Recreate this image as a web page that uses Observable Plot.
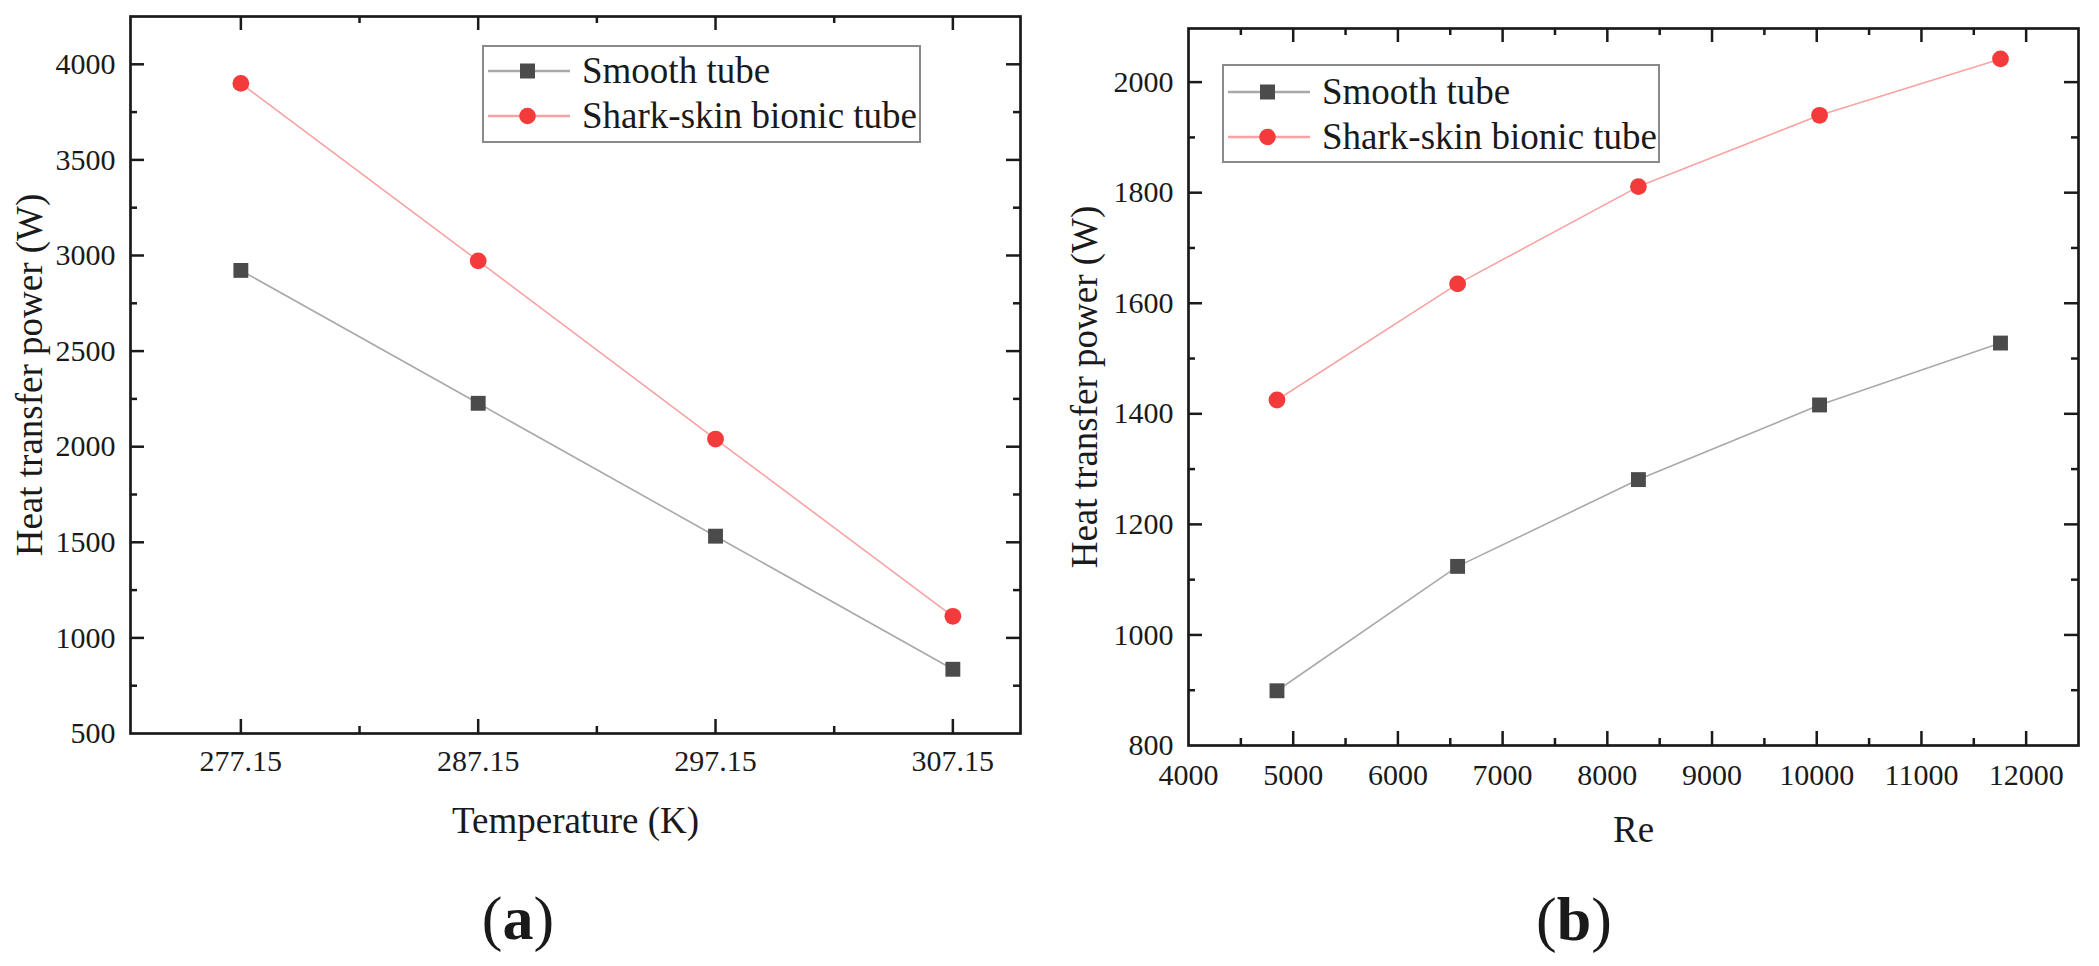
<!DOCTYPE html>
<html>
<head>
  <meta charset="utf-8">
  <!-- load d3 and plot -->
  <script src="https://cdn.jsdelivr.net/npm/d3@7"></script>
  <script src="https://cdn.jsdelivr.net/npm/@observablehq/plot@0.6"></script>
  <style>
    body { margin: 0; background: white; }
    #page { position: relative; width: 2099px; height: 966px; font-family: "Liberation Serif", "Times New Roman", serif; color: #1a1a1a; }
    .panel { position: absolute; top: 0; }
    .panel svg, .panel svg text { font-family: "Liberation Serif", "Times New Roman", serif !important; }
    .legend { position: absolute; box-sizing: border-box; border: 2px solid #8a8a8a; background: white; }
    .row { position: absolute; left: 0; height: 40px; display: flex; align-items: center; }
    .row span { font-size: 37px; line-height: 40px; white-space: nowrap; margin-left: 8px; }
    .caption { position: absolute; font-size: 62px; line-height: 1; transform: translate(-50%, -50%); }
  </style>
</head>
<body>
  <div id="page">
    <div class="panel" id="chartA" style="left:0px"></div>
    <div class="panel" id="chartB" style="left:1040px"></div>
  </div>
  <script>
    const serif = '"Liberation Serif", "Times New Roman", serif';

    // series names
    const seriesNames = ["Smooth tube", "Shark-skin bionic tube"];

    // panel (a): temperature sweep
    const tempK = [277.15, 287.15, 297.15, 307.15];
    const smoothPowerA = [2922, 2227, 1532, 836];
    const sharkPowerA = [3900, 2972, 2040, 1113];

    // panel (b): Reynolds number sweep
    const reynolds = [4845, 6570, 8297, 10027, 11755];
    const smoothPowerB = [899, 1124, 1281, 1416, 1528];
    const sharkPowerB = [1425, 1635, 1811, 1940, 2042];

    // tick values
    const tempMajor = [277.15, 287.15, 297.15, 307.15];
    const tempMinor = [282.15, 292.15, 302.15];
    const powerAMajor = [500, 1000, 1500, 2000, 2500, 3000, 3500, 4000];
    const powerAMinor = [750, 1250, 1750, 2250, 2750, 3250, 3750];
    const reMajor = [4000, 5000, 6000, 7000, 8000, 9000, 10000, 11000, 12000];
    const reMinor = [4500, 5500, 6500, 7500, 8500, 9500, 10500, 11500];
    const powerBMajor = [800, 1000, 1200, 1400, 1600, 1800, 2000];
    const powerBMinor = [900, 1100, 1300, 1500, 1700, 1900];

    // colours
    const lineColor = {"Smooth tube": "#a9a9a9", "Shark-skin bionic tube": "#f8a3a3"};
    const dotColor = {"Smooth tube": "#4b4b4b", "Shark-skin bionic tube": "#f33b3b"};
    const dotSymbol = {"Smooth tube": "square", "Shark-skin bionic tube": "circle"};

    // long table for one panel
    function makeRows(xs, smooth, shark) {
      return [smooth, shark].flatMap((vals, i) =>
        vals.map((v, j) => ({series: seriesNames[i], x: xs[j], y: v})));
    }

    // inward ticks on all four sides of the frame
    function frameTicks(xMaj, xMin, yMaj, yMin, fw, fh) {
      const big = 14, small = 7, sw = 2.5, c = "#1a1a1a";
      return [
        Plot.tickX(xMaj, {x: d => d, insetTop: fh - big, stroke: c, strokeWidth: sw}),
        Plot.tickX(xMaj, {x: d => d, insetBottom: fh - big, stroke: c, strokeWidth: sw}),
        Plot.tickX(xMin, {x: d => d, insetTop: fh - small, stroke: c, strokeWidth: sw}),
        Plot.tickX(xMin, {x: d => d, insetBottom: fh - small, stroke: c, strokeWidth: sw}),
        Plot.tickY(yMaj, {y: d => d, insetRight: fw - big, stroke: c, strokeWidth: sw}),
        Plot.tickY(yMaj, {y: d => d, insetLeft: fw - big, stroke: c, strokeWidth: sw}),
        Plot.tickY(yMin, {y: d => d, insetRight: fw - small, stroke: c, strokeWidth: sw}),
        Plot.tickY(yMin, {y: d => d, insetLeft: fw - small, stroke: c, strokeWidth: sw})
      ];
    }

    function panel(o) {
      const fw = o.width - o.ml - o.mr;
      const fh = o.height - o.mt - o.mb;
      const rows = makeRows(o.xs, o.smooth, o.shark);
      return Plot.plot({
        width: o.width,
        height: o.height,
        marginLeft: o.ml, marginRight: o.mr, marginTop: o.mt, marginBottom: o.mb,
        style: {background: "white", fontFamily: serif, fontSize: "30px", color: "#1a1a1a", overflow: "visible"},
        x: {domain: o.xDomain},
        y: {domain: o.yDomain},
        marks: [
          Plot.axisX(o.xMajor, {tickSize: 0, tickPadding: o.xPad, tickFormat: o.xFormat, label: null, fontSize: 30, fontFamily: serif}),
          Plot.axisY(o.yMajor, {tickSize: 0, tickPadding: 15, tickFormat: d3.format("d"), label: null, fontSize: 30, fontFamily: serif}),
          ...frameTicks(o.xMajor.filter(d => d > o.xDomain[0]), o.xMinor, o.yMajor.filter(d => d > o.yDomain[0]), o.yMinor, fw, fh),
          Plot.line(rows, {x: "x", y: "y", z: "series", stroke: d => lineColor[d.series], strokeWidth: 1.6}),
          Plot.dot(rows, {x: "x", y: "y", symbol: d => dotSymbol[d.series], fill: d => dotColor[d.series], r: 8.4}),
          Plot.frame({stroke: "#1a1a1a", strokeWidth: 2.7}),
          Plot.text([o.xTitle], {text: d => d, frameAnchor: "bottom", dy: o.xTitleDy, lineAnchor: "middle", textAnchor: "middle", fontSize: 37, fontFamily: serif}),
          Plot.text([o.yTitle], {text: d => d, frameAnchor: "left", dx: o.yTitleDx, rotate: -90, lineAnchor: "middle", textAnchor: "middle", fontSize: 37, fontFamily: serif})
        ]
      });
    }

    const chartA = panel({
      width: 1040, height: 860, ml: 130, mr: 20, mt: 16, mb: 127,
      xs: tempK, smooth: smoothPowerA, shark: sharkPowerA,
      xDomain: [272.5, 310], yDomain: [500, 4250],
      xMajor: tempMajor, xMinor: tempMinor, yMajor: powerAMajor, yMinor: powerAMinor,
      xFormat: d3.format(".2f"), xPad: 16,
      xTitle: "Temperature (K)", xTitleDy: 88,
      yTitle: "Heat transfer power (W)", yTitleDx: -100
    });
    document.getElementById("chartA").appendChild(chartA);

    const chartB = panel({
      width: 1059, height: 860, ml: 148, mr: 21, mt: 28, mb: 115,
      xs: reynolds, smooth: smoothPowerB, shark: sharkPowerB,
      xDomain: [4000, 12500], yDomain: [800, 2097],
      xMajor: reMajor, xMinor: reMinor, yMajor: powerBMajor, yMinor: powerBMinor,
      xFormat: d3.format("d"), xPad: 18,
      xTitle: "Re", xTitleDy: 85,
      yTitle: "Heat transfer power (W)", yTitleDx: -103
    });
    document.getElementById("chartB").appendChild(chartB);

    // legend boxes (html)
    function addLegend(left, top, width, height, rowTops) {
      const page = document.getElementById("page");
      const box = document.createElement("div");
      box.className = "legend";
      Object.assign(box.style, {left: left + "px", top: top + "px", width: width + "px", height: height + "px"});
      seriesNames.forEach((name, i) => {
        const row = document.createElement("div");
        row.className = "row";
        row.style.top = rowTops[i] + "px";
        const sym = dotSymbol[name] === "square"
          ? `<rect x="36" y="12.5" width="15" height="15" fill="${dotColor[name]}"/>`
          : `<circle cx="43.5" cy="20" r="8.3" fill="${dotColor[name]}"/>`;
        row.innerHTML = `<svg width="90" height="40"><line x1="4" x2="86" y1="20" y2="20" stroke="${lineColor[name]}" stroke-width="2.5"/>${sym}</svg><span>${name}</span>`;
        box.appendChild(row);
      });
      page.appendChild(box);
    }
    addLegend(482, 45, 439, 98, [4, 49]);
    addLegend(1222, 64, 438, 99, [6, 51]);

    // panel captions
    function addCaption(x, y, letter) {
      const c = document.createElement("div");
      c.className = "caption";
      c.style.left = x + "px";
      c.style.top = y + "px";
      c.innerHTML = `(<b>${letter}</b>)`;
      document.getElementById("page").appendChild(c);
    }
    addCaption(518, 918, "a");
    addCaption(1574, 919, "b");
  </script>
</body>
</html>
